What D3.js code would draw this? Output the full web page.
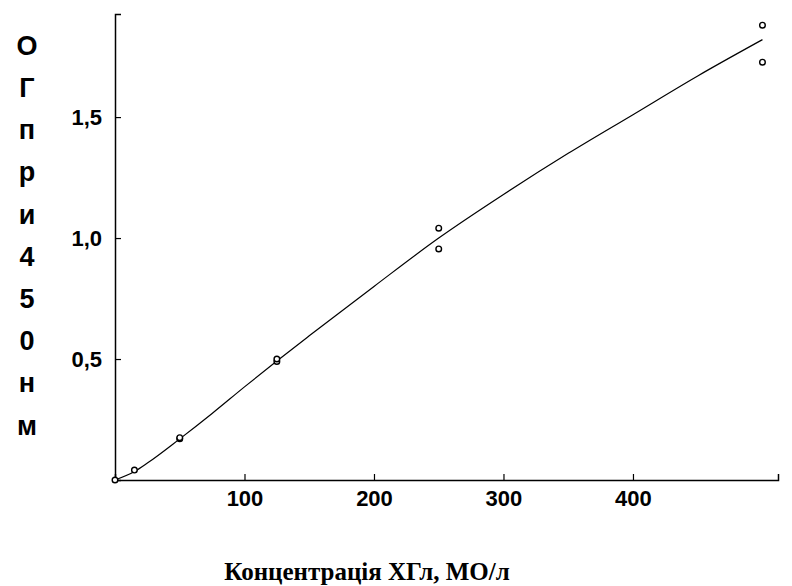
<!DOCTYPE html>
<html>
<head>
<meta charset="utf-8">
<script src="https://cdn.jsdelivr.net/npm/d3@7"></script>
<style>
  body { margin: 0; background: #fff; }
</style>
</head>
<body>
<div id="chart"></div>
<script>
// measured points (concentration, optical density)
var concentrations = [0, 15, 50, 50, 125, 125, 250, 250, 500, 500];
var odValues = [0, 0.041, 0.17, 0.175, 0.49, 0.5, 1.041, 0.955, 1.88, 1.727];

// fitted curve
var curveX = [0, 15, 25, 50, 75, 100, 125, 150, 200, 250, 300, 350, 400, 450, 500];
var curveY = [0, 0.035, 0.07, 0.17, 0.275, 0.385, 0.492, 0.596, 0.8, 1.0, 1.18, 1.35, 1.51, 1.67, 1.82];

var xTicks = [100, 200, 300, 400];
var yTicks = [0.5, 1.0, 1.5];
var yLabelChars = ["О", "Г", "п", "р", "и", "4", "5", "0", "н", "м"];
var xTitle = "Концентрація ХГл, МО/л";

var width = 792, height = 586;

var svg = d3.select("#chart")
    .append("svg")
    .attr("width", width)
    .attr("height", height);

// scales
var x = d3.scaleLinear().domain([0, 512]).range([115, 778]);
var y = d3.scaleLinear().domain([0, 1.926]).range([480, 14]);

// axes, ticks pointing inward
var xAxis = d3.axisBottom(x)
    .tickValues(xTicks)
    .tickSize(-6)
    .tickPadding(10)
    .tickFormat(d3.format("d"));

var yAxis = d3.axisLeft(y)
    .tickValues(yTicks)
    .tickSize(-6)
    .tickPadding(13)
    .tickFormat(function (d) { return d.toFixed(1).replace(".", ","); });

var gx = svg.append("g")
    .attr("transform", "translate(0," + y(0) + ")")
    .call(xAxis);

var gy = svg.append("g")
    .attr("transform", "translate(" + x(0) + ",0)")
    .call(yAxis);

[gx, gy].forEach(function (g) {
    g.select(".domain").attr("stroke", "#000").attr("stroke-width", 1.5);
    g.selectAll(".tick line").attr("stroke", "#000").attr("stroke-width", 1.2);
    g.selectAll(".tick text")
        .attr("fill", "#000")
        .style("font-family", "'Liberation Sans', Arial, sans-serif")
        .style("font-weight", "bold")
        .style("font-size", "22px");
});

// fitted curve
var line = d3.line()
    .x(function (d) { return x(d[0]); })
    .y(function (d) { return y(d[1]); })
    .curve(d3.curveMonotoneX);

svg.append("path")
    .datum(curveX.map(function (c, i) { return [c, curveY[i]]; }))
    .attr("fill", "none")
    .attr("stroke", "#000")
    .attr("stroke-width", 1.2)
    .attr("d", line);

// data points as open circles
svg.selectAll("circle.pt")
    .data(concentrations.map(function (c, i) { return [c, odValues[i]]; }))
    .enter()
    .append("circle")
    .attr("class", "pt")
    .attr("cx", function (d) { return x(d[0]); })
    .attr("cy", function (d) { return y(d[1]); })
    .attr("r", 2.8)
    .attr("fill", "#fff")
    .attr("stroke", "#000")
    .attr("stroke-width", 1.4);

// vertical y-axis label, one character per line
svg.append("g")
    .selectAll("text")
    .data(yLabelChars)
    .enter()
    .append("text")
    .attr("x", 27)
    .attr("y", function (d, i) { return 45 + i * 42.2; })
    .attr("dy", "0.36em")
    .attr("text-anchor", "middle")
    .style("font-family", "'Liberation Sans', Arial, sans-serif")
    .style("font-weight", "bold")
    .style("font-size", "27px")
    .text(function (d) { return d; });

// x-axis title
svg.append("text")
    .attr("x", 367)
    .attr("y", 580)
    .attr("text-anchor", "middle")
    .style("font-family", "'Liberation Serif', 'Times New Roman', serif")
    .style("font-weight", "bold")
    .style("font-size", "25px")
    .text(xTitle);
</script>
</body>
</html>
